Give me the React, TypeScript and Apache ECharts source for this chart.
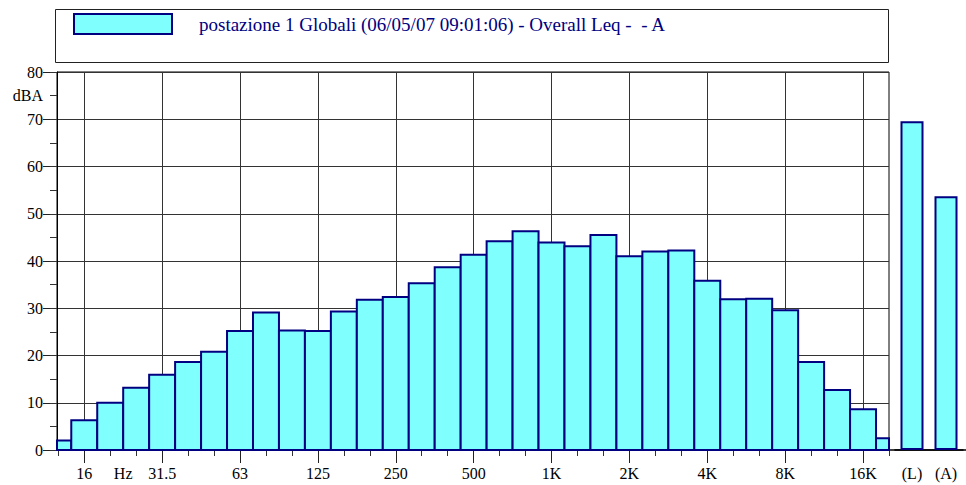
import React, { useEffect, useRef } from "react";
import * as echarts from "echarts";

// Third-octave band index: 16 Hz = 0, 16 kHz = 30
const bandIndex = [-1, 0, 1, 2, 3, 4, 5, 6, 7, 8, 9, 10, 11, 12, 13, 14, 15, 16, 17, 18, 19, 20, 21, 22, 23, 24, 25, 26, 27, 28, 29, 30, 31];
const bandNames = ["12.5", "16", "20", "25", "31.5", "40", "50", "63", "80", "100", "125", "160", "200", "250", "315", "400", "500", "630", "800", "1K", "1.25K", "1.6K", "2K", "2.5K", "3.15K", "4K", "5K", "6.3K", "8K", "10K", "12.5K", "16K", "20K"];
const levels = [2.0, 6.3, 10.0, 13.2, 15.9, 18.6, 20.8, 25.2, 29.1, 25.3, 25.2, 29.3, 31.8, 32.4, 35.3, 38.7, 41.3, 44.2, 46.3, 43.9, 43.1, 45.5, 41.0, 42.0, 42.2, 35.8, 31.9, 32.0, 29.6, 18.6, 12.7, 8.6, 2.5];

const majorTickValues = [0, 3, 6, 9, 12, 15, 18, 21, 24, 27, 30];
const minorTickValues = [-1, 0, 1, 2, 3, 4, 5, 6, 7, 8, 9, 10, 11, 12, 13, 14, 15, 16, 17, 18, 19, 20, 21, 22, 23, 24, 25, 26, 27, 28, 29, 30, 31];
const labelValues = [0, 1.5, 3, 6, 9, 12, 15, 18, 21, 24, 27, 30];
const labelTexts = ["16", "Hz", "31.5", "63", "125", "250", "500", "1K", "2K", "4K", "8K", "16K"];

const totalNames = ["(L)", "(A)"];
const totalLevels = [69.6, 53.7];

const seriesName = "postazione 1 Globali (06/05/07 09:01:06) - Overall Leq -  - A";

const FILL = "#80ffff";
const EDGE = "#000080";
const FONT = "Liberation Serif";

export default function App() {
  const ref = useRef<HTMLDivElement>(null);

  useEffect(() => {
    if (!ref.current) return;
    const chart = echarts.init(ref.current, undefined, { renderer: "svg" });

    const labelFor = (v: number) => {
      for (let i = 0; i < labelValues.length; i++) {
        if (Math.abs(labelValues[i] - v) < 1e-6) return labelTexts[i];
      }
      return "";
    };

    const option: any = {
      animation: false,
      backgroundColor: "#ffffff",
      textStyle: { fontFamily: FONT },
      legend: {
        left: 73,
        top: 13,
        padding: 0,
        itemWidth: 98,
        itemHeight: 20,
        selectedMode: false,
        data: [
          {
            name: seriesName,
            icon: "rect",
            itemStyle: { color: FILL, borderColor: EDGE, borderWidth: 2 },
          },
        ],
        textStyle: {
          fontFamily: FONT,
          fontSize: 19,
          color: EDGE,
          padding: [0, 0, 0, 22],
        },
      },
      graphic: [
        {
          type: "rect",
          shape: { x: 55.5, y: 9.5, width: 833, height: 53 },
          style: { fill: "none", stroke: "#222", lineWidth: 1 },
          silent: true,
        },
        {
          type: "line",
          shape: { x1: 889, y1: 450, x2: 966, y2: 450 },
          style: { stroke: "#000", lineWidth: 1.5 },
          silent: true,
        },
      ],
      grid: [
        {
          left: 57,
          top: 72,
          width: 832,
          height: 378,
          show: true,
          borderColor: "#000",
          borderWidth: 1,
          backgroundColor: "transparent",
        },
        {
          left: 895,
          top: 72,
          width: 68,
          height: 378,
        },
      ],
      xAxis: [
        {
          gridIndex: 0,
          type: "value",
          position: "bottom",
          min: -1.05,
          max: 31,
          axisLine: { show: false, onZero: false },
          axisTick: { show: true, length: 6, customValues: minorTickValues, lineStyle: { color: "#333" } },
          axisLabel: { show: false },
          splitLine: { show: false },
        },
        {
          gridIndex: 0,
          type: "value",
          position: "bottom",
          min: -1.05,
          max: 31,
          axisLine: { show: false, onZero: false },
          axisTick: { show: true, length: 13, customValues: majorTickValues, lineStyle: { color: "#222" } },
          axisLabel: {
            show: true,
            customValues: labelValues,
            formatter: (v: number) => labelFor(v),
            fontSize: 16,
            fontFamily: FONT,
            color: "#000",
            margin: 15,
          },
          splitLine: { show: true, lineStyle: { color: "#333", width: 1 } },
        },
        {
          gridIndex: 1,
          type: "category",
          data: totalNames,
          position: "bottom",
          axisLine: { show: true, onZero: false, lineStyle: { color: "#000", width: 1.5 } },
          axisTick: { show: false },
          axisLabel: { fontSize: 16, fontFamily: FONT, color: "#000", margin: 15 },
          splitLine: { show: false },
        },
      ],
      yAxis: [
        {
          gridIndex: 0,
          type: "value",
          position: "left",
          min: 0,
          max: 80,
          interval: 10,
          axisLine: { show: true, onZero: false, lineStyle: { color: "#000" } },
          axisTick: { show: true, length: 14, lineStyle: { color: "#222" } },
          axisLabel: { fontSize: 16, fontFamily: FONT, color: "#000", margin: 14 },
          splitLine: { show: true, lineStyle: { color: "#333", width: 1 } },
        },
        {
          gridIndex: 0,
          type: "value",
          position: "left",
          min: 0,
          max: 80,
          interval: 5,
          axisLine: { show: false, onZero: false },
          axisTick: { show: true, length: 7, lineStyle: { color: "#333" } },
          axisLabel: {
            fontSize: 16,
            fontFamily: FONT,
            color: "#000",
            margin: 14,
            formatter: (v: number) => (v === 75 ? "dBA" : ""),
          },
          splitLine: { show: false },
        },
        {
          gridIndex: 1,
          type: "value",
          min: 0,
          max: 80,
          show: false,
        },
      ],
      series: [
        {
          name: seriesName,
          type: "custom",
          xAxisIndex: 1,
          yAxisIndex: 0,
          data: bandIndex.map((b, i) => [b, levels[i], bandNames[i]]),
          encode: { x: 0, y: 1 },
          itemStyle: { color: FILL, borderColor: EDGE, borderWidth: 2 },
          renderItem: (params: any, api: any) => {
            const idx = api.value(0) as number;
            const v = api.value(1) as number;
            const p1 = api.coord([idx - 0.5, v]);
            const p2 = api.coord([idx + 0.5, 0]);
            const cs = params.coordSys;
            const x1 = Math.max(p1[0], cs.x);
            const x2 = Math.min(p2[0], cs.x + cs.width);
            return {
              type: "rect",
              shape: { x: x1, y: p1[1], width: x2 - x1, height: p2[1] - p1[1] },
              style: { fill: FILL, stroke: EDGE, lineWidth: 2 },
            };
          },
        },
        {
          name: "totals",
          type: "bar",
          xAxisIndex: 2,
          yAxisIndex: 2,
          data: totalLevels,
          barWidth: 23,
          itemStyle: { color: FILL, borderColor: EDGE, borderWidth: 2 },
        },
      ],
    };

    chart.setOption(option);
    return () => {
      chart.dispose();
    };
  }, []);

  return (
    <div
      ref={ref}
      style={{ position: "absolute", left: 0, top: 0, width: 966, height: 485, background: "#fff" }}
    />
  );
}
